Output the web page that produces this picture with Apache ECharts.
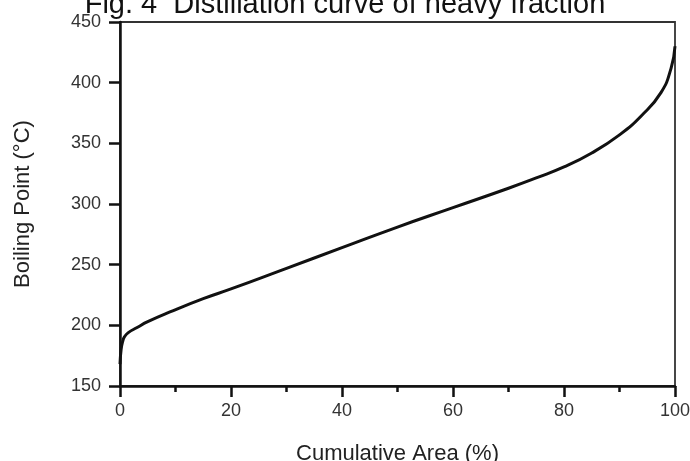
<!DOCTYPE html>
<html>
<head>
<meta charset="utf-8">
<script src="https://cdn.jsdelivr.net/npm/echarts@6/dist/echarts.min.js"></script>
<style>html,body{margin:0;padding:0;background:#fff}#c{width:690px;height:461px}</style>
</head>
<body>
<div id="c"></div>
<script>
var titleText = 'Fig. 4  Distillation curve of heavy fraction';
var xName = 'Cumulative Area (%)';
var yName = 'Boiling Point (°C)';
var cumulativeArea = [0, 0.2, 0.5, 0.8, 1.5, 3, 5, 9, 15, 20, 30, 40, 50, 60, 70, 75, 80, 85, 90, 94, 97.5, 99.3, 100];
var boilingPoint  = [168, 180, 187, 190.5, 194, 198, 203, 211, 222, 230, 247, 264, 281, 297, 313, 321.5, 330.5, 342, 357, 373, 392, 412, 430];

var pts = cumulativeArea.map(function (x, i) { return [x, boilingPoint[i]]; });
var font = 'Liberation Sans, Arial, sans-serif';
var chart = echarts.init(document.getElementById('c'), null, {renderer: 'canvas'});
chart.setOption({
  animation: false,
  backgroundColor: '#fff',
  title: {
    text: titleText, left: 'center', top: -15,
    textStyle: {fontFamily: font, fontSize: 29, fontWeight: 'normal', color: '#111'}
  },
  grid: {left: 120, right: 15, top: 22, bottom: 75, containLabel: false, outerBoundsMode: 'none',
         show: true, borderColor: '#333', borderWidth: 1.8, backgroundColor: 'transparent'},
  xAxis: {
    type: 'value', min: 0, max: 100, interval: 20,
    name: xName, nameLocation: 'middle', nameGap: 57,
    nameTextStyle: {fontFamily: font, fontSize: 22, color: '#222'},
    axisLine: {lineStyle: {color: '#111', width: 2.5}},
    axisTick: {length: 11, lineStyle: {color: '#111', width: 2.5}},
    minorTick: {show: true, splitNumber: 2, length: 6, lineStyle: {color: '#111', width: 2.5}},
    axisLabel: {fontFamily: font, fontSize: 18, color: '#333', margin: 16},
    splitLine: {show: false}
  },
  yAxis: {
    type: 'value', min: 150, max: 450, interval: 50,
    name: yName, nameLocation: 'middle', nameGap: 86,
    nameTextStyle: {fontFamily: font, fontSize: 22, color: '#222'},
    axisLine: {show: true, lineStyle: {color: '#111', width: 2.5}},
    axisTick: {show: true, length: 11, lineStyle: {color: '#111', width: 2.5}},
    axisLabel: {fontFamily: font, fontSize: 18, color: '#333', margin: 19},
    splitLine: {show: false}
  },
  series: [{
    type: 'line', data: pts, showSymbol: false, smooth: true,
    lineStyle: {color: '#111', width: 3}
  }]
});
</script>
</body>
</html>
